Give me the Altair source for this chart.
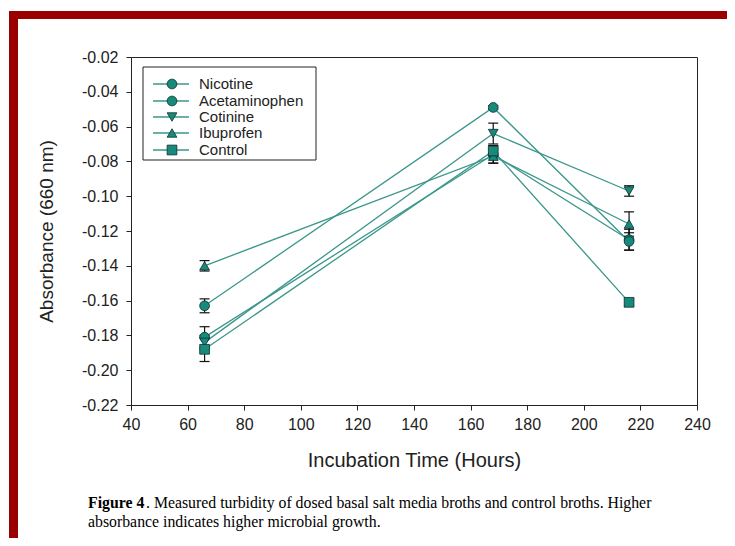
import altair as alt
import pandas as pd

# ---- data ----
series = ["Nicotine", "Acetaminophen", "Cotinine", "Ibuprofen", "Control"]
shapes = ["circle", "circle", "triangle-down", "triangle-up", "square"]
times = [66, 168, 216]

nicotine = [-0.181, -0.076, -0.125]
acetaminophen = [-0.163, -0.049, -0.126]
cotinine = [-0.184, -0.064, -0.097]
ibuprofen = [-0.140, -0.077, -0.116]
control = [-0.188, -0.074, -0.161]

nicotine_err = [0.006, 0.005, 0.006]
acetaminophen_err = [0.004, 0.001, 0.005]
cotinine_err = [0.004, 0.006, 0.003]
ibuprofen_err = [0.003, 0.004, 0.007]
control_err = [0.007, 0.003, 0.002]

x_ticks = [40, 60, 80, 100, 120, 140, 160, 180, 200, 220, 240]
y_ticks = [-0.22, -0.20, -0.18, -0.16, -0.14, -0.12, -0.10, -0.08, -0.06, -0.04, -0.02]

caption_bold = "Figure 4"
caption_line1 = ".  Measured turbidity of dosed basal salt media broths and control broths.  Higher"
caption_line2 = "absorbance indicates higher microbial growth."

values = [nicotine, acetaminophen, cotinine, ibuprofen, control]
errors = [nicotine_err, acetaminophen_err, cotinine_err, ibuprofen_err, control_err]

rows = []
for s, v, e in zip(series, values, errors):
    for t, val, err in zip(times, v, e):
        rows.append({"series": s, "time": t, "abs": val, "lo": val - err, "hi": val + err})
df = pd.DataFrame(rows)

TEAL_LINE = "#3b978b"
TEAL_FILL = "#178a7c"
DARK = "#0d2f2c"
RED = "#9a0000"

W, H = 566, 348

xs = alt.Scale(domain=[40, 240], nice=False, zero=False)
ys = alt.Scale(domain=[-0.22, -0.02], nice=False, zero=False)

X = alt.X("time:Q", scale=xs,
          axis=alt.Axis(values=x_ticks, title="Incubation Time (Hours)", grid=False,
                        labelOverlap=False, labelFlush=False, titleFontSize=20))
Y = alt.Y("abs:Q", scale=ys,
          axis=alt.Axis(values=y_ticks, title="Absorbance (660 nm)", grid=False,
                        labelOverlap=False, labelFlush=False, labelBound=False,
                        tickCount=11, titleFontSize=19,
                        labelExpr="replace(format(datum.value, '.2f'), '\u2212', '-')"))

base = alt.Chart(df)

lines = base.mark_line(color=TEAL_LINE, strokeWidth=1.3).encode(
    x=X, y=Y, detail="series:N", order="time:Q")

stems = base.mark_rule(color="#111111", strokeWidth=1.2).encode(
    x=alt.X("time:Q", scale=xs), y=alt.Y("lo:Q", scale=ys), y2="hi:Q")
cap_hi = base.mark_rule(color="#111111", strokeWidth=1.2, xOffset=-5, x2Offset=5).encode(
    x=alt.X("time:Q", scale=xs), x2="time:Q", y=alt.Y("hi:Q", scale=ys))
cap_lo = base.mark_rule(color="#111111", strokeWidth=1.2, xOffset=-5, x2Offset=5).encode(
    x=alt.X("time:Q", scale=xs), x2="time:Q", y=alt.Y("lo:Q", scale=ys))

points = base.mark_point(filled=True, fill=TEAL_FILL, stroke=DARK, strokeWidth=0.8,
                         size=95, opacity=1).encode(
    x=alt.X("time:Q", scale=xs), y=alt.Y("abs:Q", scale=ys),
    shape=alt.Shape("series:N", scale=alt.Scale(domain=series, range=shapes), legend=None))

# ---- manual legend (box, line, marker, label) ----
one = pd.DataFrame({"k": [0]})
legend_layers = [
    alt.Chart(one).mark_rect(fill="white", stroke="#222222", strokeWidth=1).encode(
        x=alt.value(12), x2=alt.value(185), y=alt.value(10), y2=alt.value(103))
]
row_y = [27, 44, 60, 76, 93]
for name, shp, ry in zip(series, shapes, row_y):
    d = pd.DataFrame({"name": [name]})
    legend_layers.append(alt.Chart(d).mark_rule(color=TEAL_LINE, strokeWidth=1.3).encode(
        x=alt.value(22), x2=alt.value(58), y=alt.value(ry)))
    legend_layers.append(alt.Chart(d).mark_point(filled=True, fill=TEAL_FILL, stroke=DARK,
                                                 strokeWidth=0.8, size=95, opacity=1,
                                                 shape=shp).encode(
        x=alt.value(41), y=alt.value(ry)))
    legend_layers.append(alt.Chart(d).mark_text(align="left", baseline="middle", fontSize=15,
                                                font="Liberation Sans", color="#222222").encode(
        x=alt.value(68), y=alt.value(ry), text="name:N"))

# ---- red frame of the slide ----
frame = [
    alt.Chart(one).mark_rect(color=RED).encode(
        x=alt.value(-122), x2=alt.value(-113), y=alt.value(-46), y2=alt.value(481)),
    alt.Chart(one).mark_rect(color=RED).encode(
        x=alt.value(-122), x2=alt.value(596), y=alt.value(-46), y2=alt.value(-38)),
]

# ---- caption ----
FS = 15.8
cap = [
    alt.Chart(pd.DataFrame({"t": [caption_bold]})).mark_text(
        align="left", baseline="middle", font="Liberation Serif", fontSize=FS,
        fontWeight="bold", color="black").encode(x=alt.value(-43), y=alt.value(446), text="t:N"),
    alt.Chart(pd.DataFrame({"t": [caption_line1]})).mark_text(
        align="left", baseline="middle", font="Liberation Serif", fontSize=FS,
        color="black").encode(x=alt.value(15), y=alt.value(446), text="t:N"),
    alt.Chart(pd.DataFrame({"t": [caption_line2]})).mark_text(
        align="left", baseline="middle", font="Liberation Serif", fontSize=FS,
        color="black").encode(x=alt.value(-43), y=alt.value(465), text="t:N"),
]

chart = alt.layer(lines, stems, cap_hi, cap_lo, points, *legend_layers, *frame, *cap).properties(
    width=W, height=H,
    autosize=alt.AutoSizeParams(type="none"),
    padding={"left": 123, "top": 49, "right": 30, "bottom": 133},
    background="white",
).configure_view(
    stroke="#222222", strokeWidth=1, clip=False
).configure_axis(
    labelFont="Liberation Sans", titleFont="Liberation Sans",
    labelFontSize=16, titleFontSize=18, titleFontWeight="normal",
    labelColor="#222222", titleColor="#222222",
    domainColor="#222222", tickColor="#222222", tickSize=5, tickWidth=1,
).configure_axisX(
    labelPadding=6, titlePadding=18,
).configure_axisY(
    labelPadding=8, titlePadding=25,
)

chart.save("out.html", embed_options={"renderer": "svg", "actions": False})
